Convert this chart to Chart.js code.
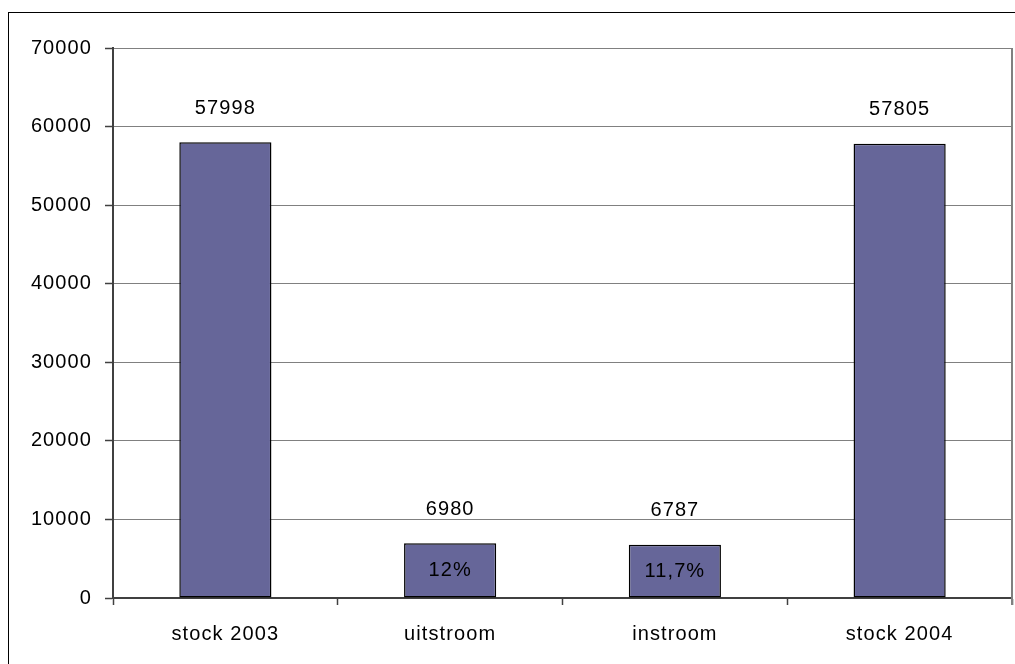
<!DOCTYPE html>
<html>
<head>
<meta charset="utf-8">
<script src="https://cdn.jsdelivr.net/npm/chart.js@4"></script>
<style>
  html, body { margin: 0; padding: 0; background: #fff; }
  #wrap { position: relative; width: 1015px; height: 664px; overflow: hidden; }
  #frame {
    position: absolute; left: 8px; top: 12px; width: 1100px; height: 700px;
    border-left: 1px solid #000; border-top: 1px solid #000;
  }
  canvas { position: absolute; left: 0; top: 0; }
</style>
</head>
<body>
<div id="wrap">
  <div id="frame"></div>
  <canvas id="chart" width="1015" height="664"></canvas>
</div>
<script>
const CATEGORIES = ["stock 2003", "uitstroom", "instroom", "stock 2004"];
const VALUES = [57998, 6980, 6787, 57805];
const INNER_LABELS = ["", "12%", "11,7%", ""];
const Y_TICKS = [0, 10000, 20000, 30000, 40000, 50000, 60000, 70000];

const BAR_COLOR = "#666699";
const AXIS_COLOR = "#404040";
const GRID_COLOR = "#808080";
const SPACING = "1.1px";
const FONT = "'Liberation Sans', Arial, sans-serif";

Chart.defaults.font.family = FONT;
Chart.defaults.font.size = 20;
Chart.defaults.color = "#000";

// Excel draws its text a bit wider than the canvas does
const spacingPlugin = {
  id: "spacing",
  beforeUpdate(chart) { chart.ctx.letterSpacing = SPACING; },
  beforeDraw(chart) { chart.ctx.letterSpacing = SPACING; },
};

const labelPlugin = {
  id: "labels",
  afterDatasetsDraw(chart) {
    const { ctx, chartArea } = chart;
    const bars = chart.getDatasetMeta(0).data;
    ctx.save();
    ctx.letterSpacing = SPACING;
    ctx.fillStyle = "#000";
    ctx.textAlign = "center";
    ctx.textBaseline = "middle";
    bars.forEach((bar, i) => {
      ctx.font = "20px " + FONT;
      ctx.fillText(String(VALUES[i]), bar.x, bar.y - 34);
      if (INNER_LABELS[i]) {
        ctx.fillText(INNER_LABELS[i], bar.x, (bar.y + bar.base) / 2);
      }
    });
    // right edge of the plot area
    ctx.strokeStyle = GRID_COLOR;
    ctx.lineWidth = 2;
    ctx.beginPath();
    ctx.moveTo(chartArea.right, chartArea.top);
    ctx.lineTo(chartArea.right, chartArea.bottom + 7);
    ctx.stroke();
    ctx.restore();
  },
};

new Chart(document.getElementById("chart"), {
  type: "bar",
  data: {
    labels: CATEGORIES,
    datasets: [{
      data: VALUES,
      backgroundColor: BAR_COLOR,
      borderColor: "#000",
      borderWidth: 1.5,
      borderSkipped: false,
      barPercentage: 0.41,
      categoryPercentage: 1,
    }],
  },
  options: {
    responsive: false,
    animation: false,
    devicePixelRatio: 1,
    layout: { padding: { left: 0, top: 48, right: 3, bottom: 0 } },
    plugins: { legend: { display: false }, tooltip: { enabled: false } },
    scales: {
      x: {
        offset: true,
        grid: {
          offset: true,
          drawOnChartArea: false,
          tickLength: 7,
          tickColor: AXIS_COLOR,
          tickWidth: 1.5,
        },
        border: { color: AXIS_COLOR, width: 2 },
        ticks: { padding: 17, maxRotation: 0 },
        afterFit(scale) { scale.height = 66; },
      },
      y: {
        min: 0,
        max: 70000,
        afterBuildTicks(scale) { scale.ticks = Y_TICKS.map((v) => ({ value: v })); },
        grid: {
          color: GRID_COLOR,
          lineWidth: 1,
          tickLength: 8,
          tickColor: AXIS_COLOR,
          tickWidth: 1.5,
        },
        border: { color: AXIS_COLOR, width: 2 },
        ticks: { padding: 13, callback: (v) => String(v) },
        afterFit(scale) { scale.width = 113; },
      },
    },
  },
  plugins: [spacingPlugin, labelPlugin],
});
</script>
</body>
</html>
